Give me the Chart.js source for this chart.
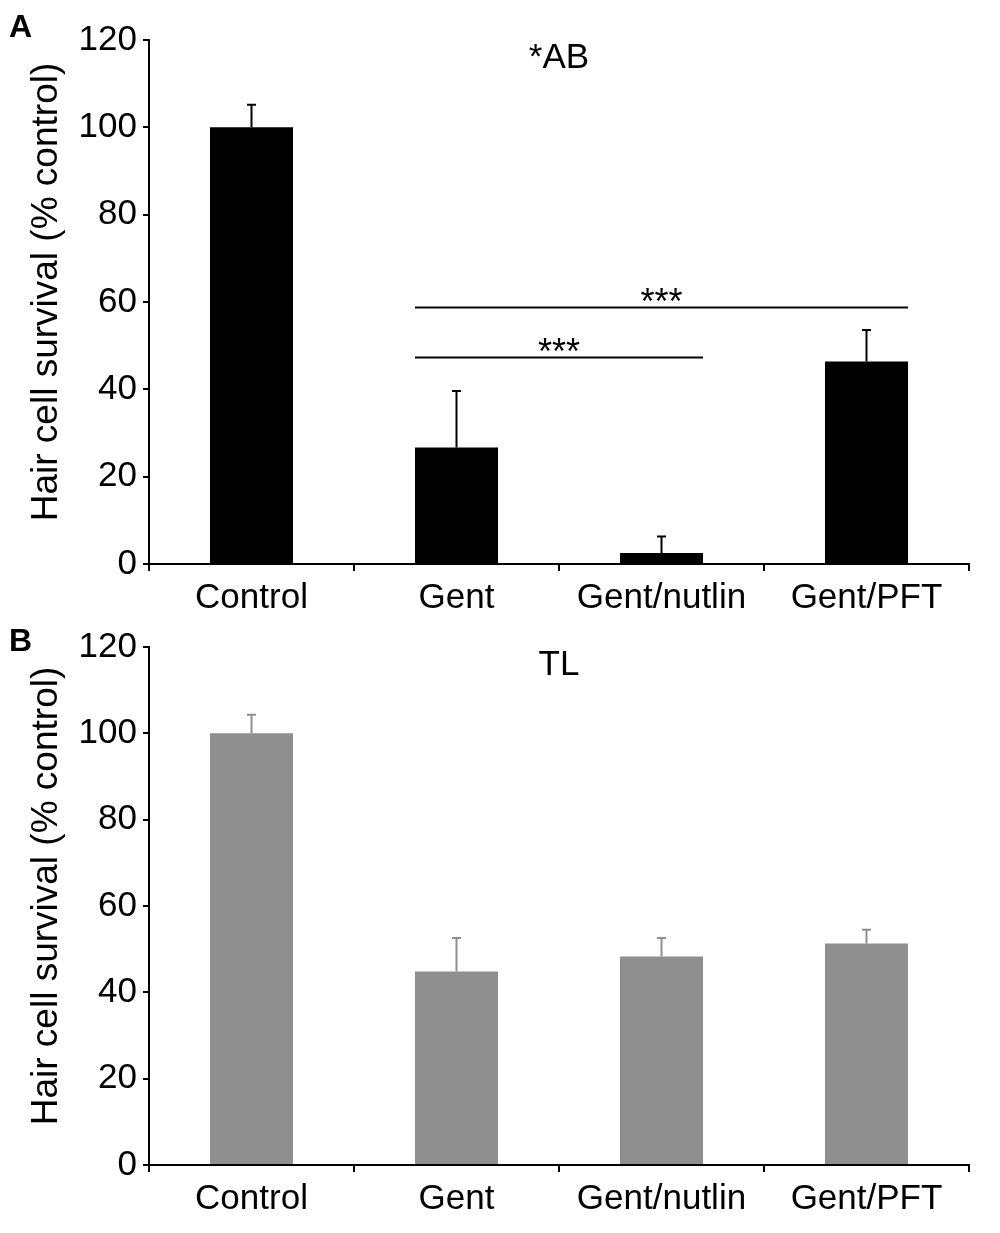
<!DOCTYPE html>
<html>
<head>
<meta charset="utf-8">
<title>Hair cell survival</title>
<script src="https://cdn.jsdelivr.net/npm/chart.js@4"></script>
<style>
  html, body { margin: 0; padding: 0; background: #fff; }
  #wrap { position: relative; width: 1000px; height: 1233px; }
  canvas { position: absolute; left: 0; }
  #chartA { top: 0; }
  #chartB { top: 616px; }
</style>
</head>
<body>
<div id="wrap">
  <canvas id="chartA" width="1000" height="616"></canvas>
  <canvas id="chartB" width="1000" height="617"></canvas>
</div>
<script>
const FONT = "'Liberation Sans', Arial, sans-serif";

const categories = ["Control", "Gent", "Gent/nutlin", "Gent/PFT"];
const yTicks = [0, 20, 40, 60, 80, 100, 120];

// panel A (*AB)
const abMeans = [100, 26.7, 2.5, 46.4];
const abErrors = [5.2, 12.9, 3.8, 7.2];
// significance brackets: from bar index, to bar index, height, label
const abBrackets = [
    {from: 1, to: 3, y: 58.9, label: "***"},
    {from: 1, to: 2, y: 47.5, label: "***"},
];

// panel B (TL)
const tlMeans = [100, 44.8, 48.3, 51.3];
const tlErrors = [4.3, 7.8, 4.3, 3.2];

const decorPlugin = {
    id: "decor",
    afterDatasetsDraw(chart, args, opts) {
        const {ctx, chartArea} = chart;
        const y = chart.scales.y;
        const meta = chart.getDatasetMeta(0);
        ctx.save();

        // error bars (upper only)
        ctx.strokeStyle = opts.errColor;
        ctx.lineWidth = 2;
        meta.data.forEach((bar, i) => {
            const top = y.getPixelForValue(opts.means[i] + opts.errors[i]);
            ctx.beginPath();
            ctx.moveTo(bar.x, bar.y);
            ctx.lineTo(bar.x, top);
            ctx.moveTo(bar.x - 4.5, top);
            ctx.lineTo(bar.x + 4.5, top);
            ctx.stroke();
        });

        // brackets
        ctx.strokeStyle = "#000";
        ctx.fillStyle = "#000";
        (opts.brackets || []).forEach((b) => {
            const a = meta.data[b.from], c = meta.data[b.to];
            const x1 = a.x - a.width / 2, x2 = c.x + c.width / 2;
            const py = Math.round(y.getPixelForValue(b.y)) + 0.5;
            ctx.beginPath();
            ctx.moveTo(x1, py);
            ctx.lineTo(x2, py);
            ctx.stroke();
            ctx.font = "36px " + FONT;
            ctx.textAlign = "center";
            ctx.textBaseline = "alphabetic";
            ctx.fillText(b.label, (x1 + x2) / 2, py + 6);
        });

        // panel title
        ctx.font = "35px " + FONT;
        ctx.textAlign = "center";
        ctx.textBaseline = "alphabetic";
        ctx.fillText(opts.title, (chartArea.left + chartArea.right) / 2, chartArea.top + 28);

        // panel letter
        ctx.font = "bold 32px " + FONT;
        ctx.textAlign = "left";
        ctx.fillText(opts.letter, 9, opts.letterY);

        // y axis title
        ctx.translate(57, (chartArea.top + chartArea.bottom) / 2 - 10);
        ctx.rotate(-Math.PI / 2);
        ctx.font = "37px " + FONT;
        ctx.textAlign = "center";
        ctx.textBaseline = "alphabetic";
        ctx.fillText("Hair cell survival (% control)", 0, 0);
        ctx.restore();
    },
};

function makeChart(el, means, color, top, xHeight, decor) {
    return new Chart(el, {
        type: "bar",
        data: {
            labels: categories,
            datasets: [{
                data: means,
                backgroundColor: color,
                borderWidth: 0,
                categoryPercentage: 1,
                barPercentage: 0.405,
            }],
        },
        options: {
            responsive: false,
            animation: false,
            layout: {padding: {top: top, left: 0, right: 31, bottom: 0}},
            plugins: {
                legend: {display: false},
                tooltip: {enabled: false},
                decor: decor,
            },
            scales: {
                x: {
                    grid: {drawOnChartArea: false, drawTicks: true, tickLength: 7, color: "#000", lineWidth: 2, offset: true},
                    border: {display: true, color: "#000", width: 2},
                    ticks: {color: "#000", padding: 6, font: {family: FONT, size: 35}, maxRotation: 0},
                    afterFit: (s) => { s.height = xHeight; },
                },
                y: {
                    min: 0,
                    max: 120,
                    afterBuildTicks: (s) => { s.ticks = yTicks.map((v) => ({value: v})); },
                    grid: {drawOnChartArea: false, drawTicks: true, tickLength: 6, color: "#000", lineWidth: 2},
                    border: {display: true, color: "#000", width: 2},
                    ticks: {color: "#000", padding: 6, font: {family: FONT, size: 35}},
                    afterFit: (s) => { s.width = 149; },
                },
            },
        },
        plugins: [decorPlugin],
    });
}

makeChart(document.getElementById("chartA"), abMeans, "#000000", 40, 52, {
    means: abMeans, errors: abErrors, errColor: "#000", brackets: abBrackets,
    title: "*AB", letter: "A", letterY: 37,
});

makeChart(document.getElementById("chartB"), tlMeans, "#8f8f8f", 31, 68, {
    means: tlMeans, errors: tlErrors, errColor: "#8f8f8f", brackets: [],
    title: "TL", letter: "B", letterY: 35,
});
</script>
</body>
</html>
